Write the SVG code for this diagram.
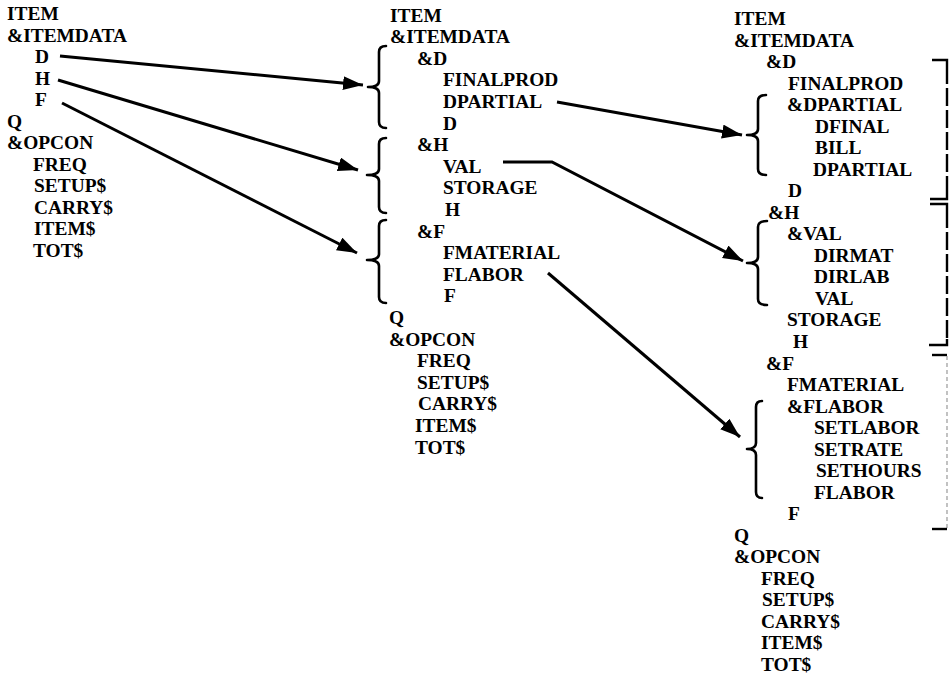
<svg xmlns="http://www.w3.org/2000/svg" width="949" height="675" viewBox="0 0 949 675">
<style>
text{font-family:"Liberation Serif","Times New Roman",serif;font-size:19.4px;font-weight:bold;fill:#000}
.brace{fill:none;stroke:#000;stroke-width:2.6;stroke-linecap:round;stroke-linejoin:round}
.conn{fill:none;stroke:#000;stroke-width:3}
.rb{fill:none;stroke:#000;stroke-width:2.4}
.rbv{fill:none;stroke:#000;stroke-width:2.4;stroke-dasharray:18 4}
.rbl{fill:none;stroke:#999;stroke-width:1.2;stroke-dasharray:4 3}
</style>
<defs>
<marker id="ah" markerUnits="userSpaceOnUse" markerWidth="22" markerHeight="16" refX="20" refY="7" orient="auto">
<path d="M0,0 L20,7 L0,14 z" fill="#000"/>
</marker>
</defs>
<rect width="949" height="675" fill="#fff"/>

<g id="col1">
<text x="7" y="20">ITEM</text>
<text x="7" y="41.5">&amp;ITEMDATA</text>
<text x="35" y="63">D</text>
<text x="35" y="84.5">H</text>
<text x="35" y="106">F</text>
<text x="7" y="127.5">Q</text>
<text x="7" y="149">&amp;OPCON</text>
<text x="33" y="170.5">FREQ</text>
<text x="34" y="192">SETUP$</text>
<text x="34" y="213.5">CARRY$</text>
<text x="34" y="235">ITEM$</text>
<text x="33" y="256.5">TOT$</text>
</g>

<g id="col2">
<text x="390" y="21.5">ITEM</text>
<text x="390" y="43.1">&amp;ITEMDATA</text>
<text x="417" y="64.7">&amp;D</text>
<text x="443" y="86.3">FINALPROD</text>
<text x="443" y="107.9">DPARTIAL</text>
<text x="443" y="129.5">D</text>
<text x="417" y="151.1">&amp;H</text>
<text x="443" y="172.7">VAL</text>
<text x="443" y="194.3">STORAGE</text>
<text x="445" y="215.9">H</text>
<text x="417" y="237.5">&amp;F</text>
<text x="443" y="259.1">FMATERIAL</text>
<text x="443" y="280.7">FLABOR</text>
<text x="444" y="302.3">F</text>
<text x="389" y="323.9">Q</text>
<text x="389" y="345.5">&amp;OPCON</text>
<text x="417" y="367.1">FREQ</text>
<text x="417" y="388.7">SETUP$</text>
<text x="418" y="410.3">CARRY$</text>
<text x="415" y="431.9">ITEM$</text>
<text x="415" y="453.5">TOT$</text>
<path class="brace" d="M386,46 Q379,46 379,52 L379,81 Q379,87 368,87 Q379,87 379,93 L379,122 Q379,128 386,128"/>
<path class="brace" d="M386,138 Q379,138 379,144 L379,169 Q379,175 367,175 Q379,175 379,181 L379,207 Q379,213 386,213"/>
<path class="brace" d="M386,220 Q379,220 379,226 L379,254 Q379,260 367,260 Q379,260 379,266 L379,297 Q379,303 386,303"/>
</g>

<g id="col3">
<text x="734" y="25">ITEM</text>
<text x="734" y="46.5">&amp;ITEMDATA</text>
<text x="766" y="68.1">&amp;D</text>
<text x="788" y="89.6">FINALPROD</text>
<text x="787" y="111.1">&amp;DPARTIAL</text>
<text x="815" y="132.7">DFINAL</text>
<text x="815" y="154.2">BILL</text>
<text x="813" y="175.7">DPARTIAL</text>
<text x="788" y="197.2">D</text>
<text x="768" y="218.8">&amp;H</text>
<text x="787" y="240.3">&amp;VAL</text>
<text x="814" y="261.8">DIRMAT</text>
<text x="814" y="283.4">DIRLAB</text>
<text x="815" y="304.9">VAL</text>
<text x="787" y="326.4">STORAGE</text>
<text x="793" y="348">H</text>
<text x="766" y="369.5">&amp;F</text>
<text x="787" y="391">FMATERIAL</text>
<text x="787" y="412.5">&amp;FLABOR</text>
<text x="814" y="434.1">SETLABOR</text>
<text x="814" y="455.6">SETRATE</text>
<text x="816" y="477.1">SETHOURS</text>
<text x="814" y="498.7">FLABOR</text>
<text x="788" y="520.2">F</text>
<text x="734" y="541.7">Q</text>
<text x="734" y="563.3">&amp;OPCON</text>
<text x="761" y="584.8">FREQ</text>
<text x="762" y="606.3">SETUP$</text>
<text x="761" y="627.8">CARRY$</text>
<text x="761" y="649.4">ITEM$</text>
<text x="761" y="670.9">TOT$</text>
<path class="brace" d="M766,95 Q758,95 758,101 L758,129 Q758,135 747,135 Q758,135 758,141 L758,169 Q758,175 766,175"/>
<path class="brace" d="M767,221 Q758,221 758,227 L758,257 Q758,263 747,263 Q758,263 758,269 L758,299 Q758,305 767,305"/>
<path class="brace" d="M762,401 Q756,401 756,407 L756,443 Q756,449 747,449 Q756,449 756,455 L756,492 Q756,498 762,498"/>
</g>

<g id="right-brackets">
<path class="rb" d="M932,60 H947 V66"/>
<path class="rbv" d="M947,66 V193"/>
<path class="rb" d="M947,193 V199 H930"/>
<path class="rb" d="M930,204 H947 V210"/>
<path class="rbv" d="M947,210 V339"/>
<path class="rb" d="M947,339 V345 H929"/>
<path class="rb" d="M932,355 H947"/>
<path class="rbl" d="M947,356 V528"/>
<path class="rb" d="M932,529 H947"/>
</g>

<g id="connectors">
<path class="conn" d="M60,56 L363,85" marker-end="url(#ah)"/>
<path class="conn" d="M58,80 L358,170" marker-end="url(#ah)"/>
<path class="conn" d="M62,103 L357,253" marker-end="url(#ah)"/>
<path class="conn" d="M557,102 L742,135" marker-end="url(#ah)"/>
<path class="conn" d="M503,162 L552,162 L743,261" marker-end="url(#ah)"/>
<path class="conn" d="M548,273 L740,437" marker-end="url(#ah)"/>
</g>
</svg>
